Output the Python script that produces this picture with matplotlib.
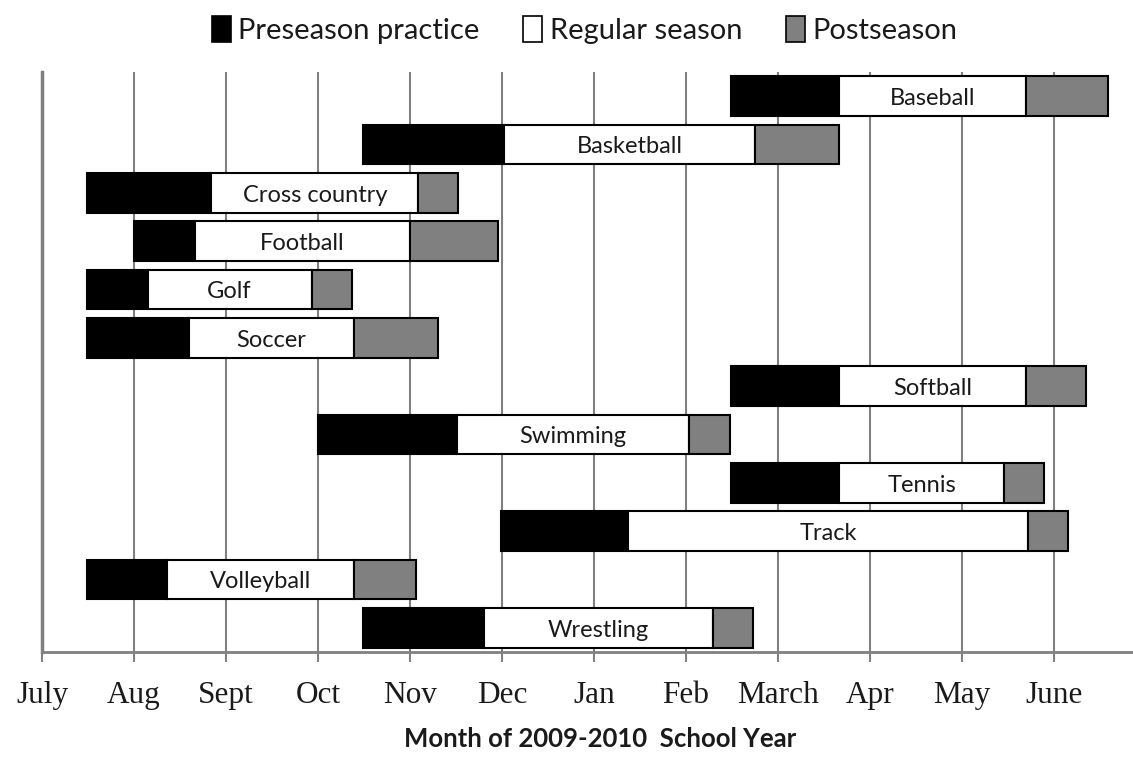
import matplotlib
matplotlib.use("Agg")
import matplotlib.pyplot as plt
from matplotlib.patches import Patch

# months since July 1 (0 = July, 1 = Aug, ...)
sports = ["Baseball", "Basketball", "Cross country", "Football", "Golf", "Soccer",
          "Softball", "Swimming", "Tennis", "Track", "Volleyball", "Wrestling"]
pre_start = [7.49, 3.49, 0.49, 1.00, 0.49, 0.49, 7.49, 3.00, 7.49, 4.99, 0.49, 3.49]
pre_end = [8.66, 5.02, 1.84, 1.66, 1.15, 1.60, 8.66, 4.51, 8.66, 6.37, 1.36, 4.80]
reg_end = [10.70, 7.75, 4.09, 4.00, 2.93, 3.39, 10.70, 7.03, 10.46, 10.72, 3.39, 7.29]
post_end = [11.59, 8.66, 4.52, 4.96, 3.37, 4.30, 11.35, 7.48, 10.89, 11.15, 4.07, 7.73]
months = ["July", "Aug", "Sept", "Oct", "Nov", "Dec", "Jan", "Feb", "March", "Apr", "May", "June"]

sans = "Lato"
serif = "Liberation Serif"

fig = plt.figure(figsize=(11.33, 7.6), dpi=100)
ax = fig.add_axes([42 / 1133, (760 - 652) / 760, (1133 - 42) / 1133, (652 - 72) / 760])

y = list(range(len(sports)))
h = 0.82
pre_w = [e - s for s, e in zip(pre_start, pre_end)]
reg_w = [e - s for s, e in zip(pre_end, reg_end)]
post_w = [e - s for s, e in zip(reg_end, post_end)]

ax.barh(y, pre_w, left=pre_start, height=h, color="black", edgecolor="black", lw=1.5, zorder=3)
ax.barh(y, reg_w, left=pre_end, height=h, color="white", edgecolor="black", lw=1.5, zorder=3)
ax.barh(y, post_w, left=reg_end, height=h, color="#808080", edgecolor="black", lw=1.5, zorder=3)

for i, name in enumerate(sports):
    ax.text((pre_end[i] + reg_end[i]) / 2, i + 0.05, name, ha="center", va="center",
            fontsize=17, family=sans, color="#1a1a1a", zorder=4)

ax.set_xlim(0, (1133 - 42) / 92)
ax.set_ylim(len(sports) - 0.5, -0.5)
ax.set_xticks(range(len(months)))
ax.set_xticklabels(months, family=serif, fontsize=22.5, color="#1a1a1a")
ax.set_yticks([])
ax.xaxis.grid(True, color="#808080", lw=1.5, zorder=0)
ax.tick_params(axis="x", direction="out", length=7, width=1.5, color="#808080", pad=14)

for s in ["top", "right"]:
    ax.spines[s].set_visible(False)
ax.spines["left"].set_color("#808080")
ax.spines["left"].set_linewidth(2.5)
ax.spines["bottom"].set_color("#808080")
ax.spines["bottom"].set_linewidth(2)

ax.set_xlabel("Month of 2009-2010  School Year", family=sans, fontweight="bold",
              fontsize=18.5, color="#1a1a1a")
ax.xaxis.set_label_coords(0.512, -0.13)

handles = [Patch(facecolor="black", edgecolor="black", lw=1.2, label="Preseason practice"),
           Patch(facecolor="white", edgecolor="black", lw=1.2, label="Regular season"),
           Patch(facecolor="#808080", edgecolor="black", lw=1.2, label="Postseason")]
fig.legend(handles=handles, loc="center", bbox_to_anchor=(0.516, 0.961), ncol=3,
           frameon=False, handlelength=0.65, handleheight=1.0, handletextpad=0.25,
           columnspacing=1.5, prop={"family": sans, "size": 21}, labelcolor="#1a1a1a")

fig.savefig("out.png", dpi=100)
